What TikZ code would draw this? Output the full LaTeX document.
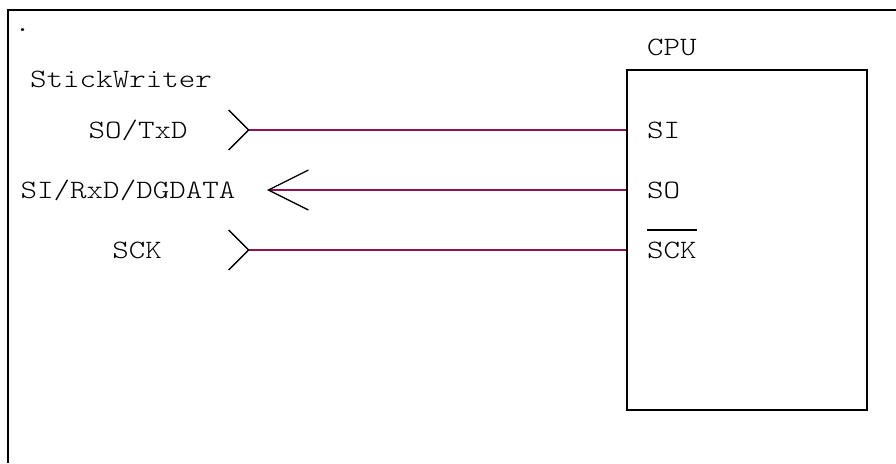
\documentclass[tikz,border=0pt]{standalone}
\usepackage{fontspec}
\newfontfamily\courfont{lmmonolt10-regular.otf}[FakeStretch=1.186]
\usepackage{tikz}
\usetikzlibrary{arrows.meta,positioning}
\definecolor{wire}{RGB}{140,20,84}
\begin{document}
\begin{tikzpicture}[x=1pt,y=-1pt,
lbl/.style={inner sep=0pt,anchor=base,font=\courfont\fontsize{26.5}{32}\selectfont},
pinlbl/.style={lbl,anchor=base west},
chip/.style={draw,line width=2pt,minimum width=240pt,minimum height=340pt,inner sep=0pt},
sig/.style={draw=wire,line width=1.6pt},
inb/.style={-{Straight Barb[length=40pt,width=40pt,color=black,line width=1.3pt]}},
outb/.style={{Straight Barb[reversed,length=20pt,width=40pt,color=black,line width=1.3pt]}-}]
\useasboundingbox (0,0) rectangle (896,463);
\draw[line width=2pt](896,10)--(8,10)--(8,463);
\node[lbl] at (22.5,31)(dot){.};
\node[lbl] at (121,87)(sw){StickWriter};
\node[lbl] at (138,138)(txdlbl){SO/TxD};
\node[lbl] at (128,198)(rxdlbl){SI/RxD/DGDATA};
\node[lbl] at (137,258)(scklbl){SCK};
\node[chip] at (747,240)(cpu){};
\node[pinlbl] at (647,55)(cpulbl){CPU};
\node[pinlbl] at (647,138)(si){SI};
\node[pinlbl] at (647,198)(so){SO};
\node[pinlbl] at (647,258)(sck){SCK};
\coordinate (txd) at (228,130);
\coordinate (rxd) at (267,190);
\coordinate (sckw) at (228,250);
\draw[sig,outb](txd)--(txd-|cpu.west);
\draw[sig,inb](rxd-|cpu.west)--(rxd);
\draw[sig,outb](sckw)--(sckw-|cpu.west);
\draw[line width=1.3pt]([yshift=28pt]sck.base west)--([yshift=28pt]sck.base east);
\end{tikzpicture}
\end{document}
